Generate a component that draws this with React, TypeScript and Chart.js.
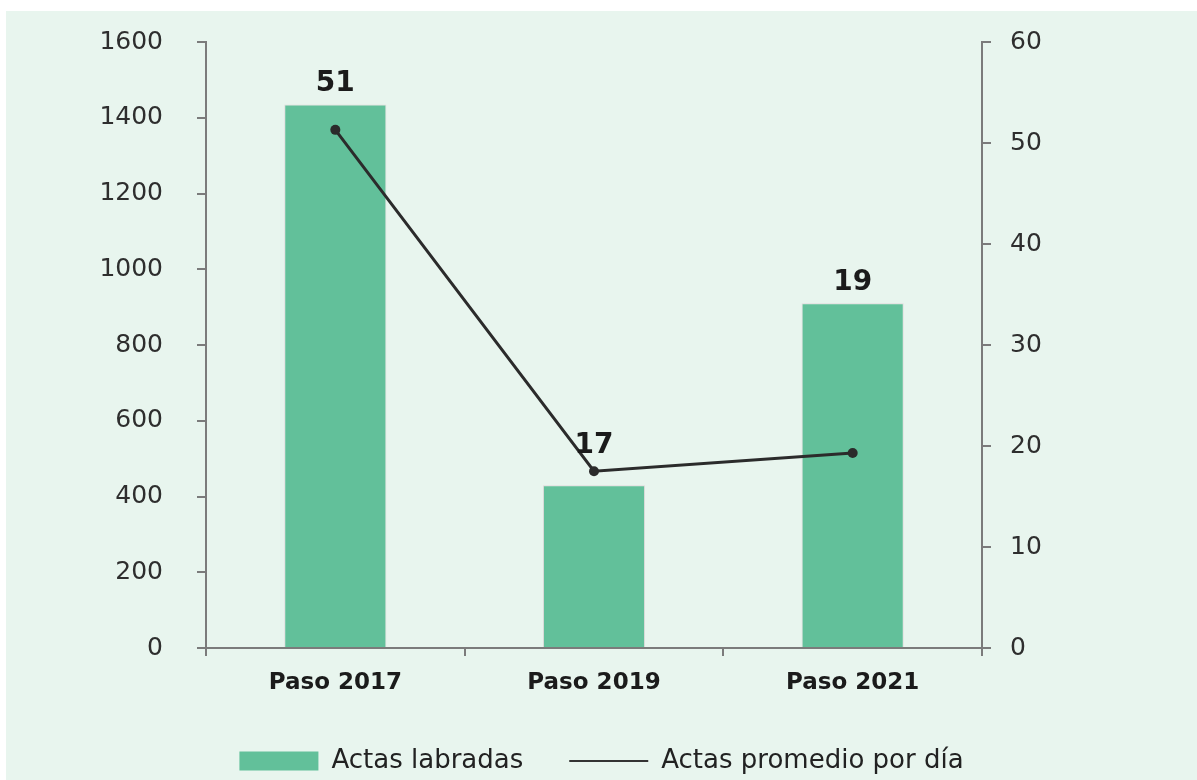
import React, { useEffect, useRef } from "react";
import { Chart, registerables } from "chart.js";

Chart.register(...registerables);

const categories: string[] = ["Paso 2017", "Paso 2019", "Paso 2021"];
const actasLabradas: number[] = [1435, 430, 910];
const actasPromedio: number[] = [51.3, 17.5, 19.3];
const promedioLabels: string[] = ["51", "17", "19"];
const leftTicks = { min: 0, max: 1600, step: 200 };
const rightTicks = { min: 0, max: 60, step: 10 };
const seriesNames: string[] = ["Actas labradas", "Actas promedio por día"];

const FONT = "'DejaVu Sans', sans-serif";
const AXIS = "#7b7b7b";

const valueLabels = {
  id: "valueLabels",
  afterDatasetsDraw(chart: any) {
    const ctx = chart.ctx;
    const bars = chart.getDatasetMeta(0).data;
    const pts = chart.getDatasetMeta(1).data;
    ctx.save();
    ctx.font = `bold 28px ${FONT}`;
    ctx.fillStyle = "#1b1b1b";
    ctx.textAlign = "center";
    ctx.textBaseline = "alphabetic";
    bars.forEach((bar: any, i: number) => {
      const p = pts[i];
      const y = Math.min(bar.y, p.y - 5) - 13;
      ctx.fillText(promedioLabels[i], bar.x, y);
    });
    ctx.restore();
  },
};

const noVPad = (s: any, w: number) => {
  s.width = w;
  s.paddingTop = 0;
  s.paddingBottom = 0;
};

export default function App() {
  const ref = useRef<HTMLCanvasElement | null>(null);
  useEffect(() => {
    if (!ref.current) return;
    const chart = new Chart(ref.current, {
      type: "bar",
      data: {
        labels: categories,
        datasets: [
          {
            type: "bar",
            label: seriesNames[0],
            data: actasLabradas,
            backgroundColor: "#62c09a",
            borderColor: "#e3d9dc",
            borderWidth: 1,
            yAxisID: "y",
            categoryPercentage: 1,
            barPercentage: 0.395,
            order: 2,
          },
          {
            type: "line",
            label: seriesNames[1],
            data: actasPromedio,
            borderColor: "#2b2b2b",
            backgroundColor: "#2b2b2b",
            borderWidth: 3,
            pointRadius: 5,
            pointBackgroundColor: "#2b2b2b",
            pointBorderWidth: 0,
            yAxisID: "y1",
            order: 1,
          } as any,
        ],
      },
      options: {
        responsive: false,
        animation: false,
        layout: { padding: { top: 31, left: 0, right: 0, bottom: 0 } },
        plugins: {
          tooltip: { enabled: false },
          legend: {
            position: "bottom",
            maxHeight: 78,
            labels: {
              usePointStyle: true,
              pointStyleWidth: 79,
              boxHeight: 19,
              padding: 46,
              color: "#222",
              font: { family: FONT, size: 26 },
              generateLabels: (c: any) => {
                const items = (Chart.defaults.plugins.legend.labels as any).generateLabels(c);
                items.sort((a: any, b: any) => a.datasetIndex - b.datasetIndex);
                items.forEach((it: any) => {
                  if (it.datasetIndex === 0) {
                    it.pointStyle = "rect";
                    it.lineWidth = 0;
                    it.fillStyle = "#62c09a";
                  } else {
                    it.pointStyle = "line";
                    it.lineWidth = 2;
                    it.strokeStyle = "#333";
                  }
                });
                return items;
              },
            },
          } as any,
        },
        scales: {
          x: {
            type: "category",
            offset: true,
            grid: {
              offset: true,
              drawOnChartArea: false,
              tickLength: 8,
              color: AXIS,
              lineWidth: 2,
            },
            border: { color: AXIS, width: 2 },
            ticks: {
              color: "#1b1b1b",
              padding: 13,
              font: { family: FONT, size: 23, weight: "bold" },
            },
            afterFit: (s: any) => {
              s.height = 54;
            },
          },
          y: {
            position: "left",
            min: leftTicks.min,
            max: leftTicks.max,
            ticks: {
              stepSize: leftTicks.step,
              color: "#2e2e2e",
              padding: 34,
              font: { family: FONT, size: 25 },
              callback: (v: any) => String(v),
            },
            grid: { drawOnChartArea: false, tickLength: 9, color: AXIS, lineWidth: 2 },
            border: { color: AXIS, width: 2 },
            afterFit: (s: any) => noVPad(s, 200),
          },
          y1: {
            position: "right",
            min: rightTicks.min,
            max: rightTicks.max,
            ticks: {
              stepSize: rightTicks.step,
              color: "#2e2e2e",
              padding: 19,
              font: { family: FONT, size: 25 },
              callback: (v: any) => String(v),
            },
            grid: { drawOnChartArea: false, tickLength: 9, color: AXIS, lineWidth: 2 },
            border: { color: AXIS, width: 2 },
            afterFit: (s: any) => noVPad(s, 215),
          },
        },
      },
      plugins: [valueLabels],
    });
    return () => chart.destroy();
  }, []);

  return (
    <div style={{ position: "absolute", left: 0, top: 0, width: 1197, height: 780, background: "#ffffff", overflow: "hidden" }}>
      <div style={{ position: "absolute", left: 6, top: 11, width: 1191, height: 769, background: "#e8f5ee" }}>
        <canvas ref={ref} width={1191} height={769} style={{ display: "block", width: 1191, height: 769 }} />
      </div>
    </div>
  );
}
